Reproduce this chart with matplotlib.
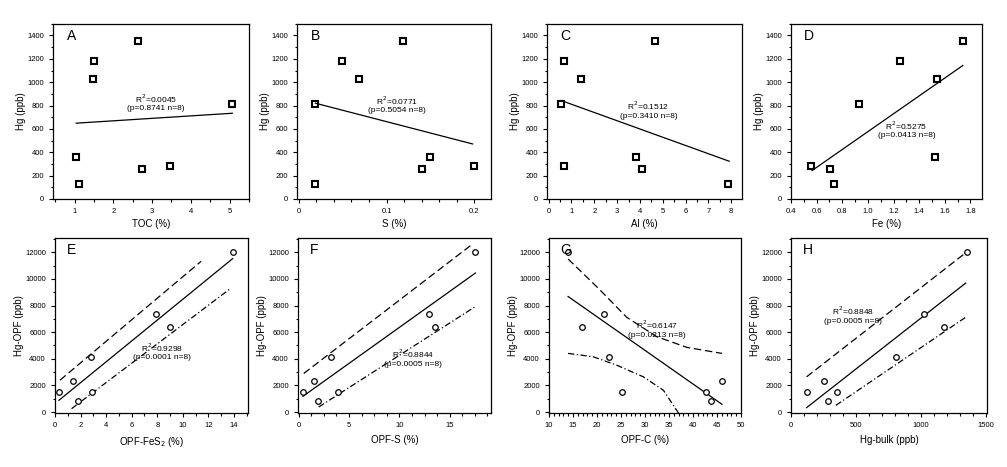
import matplotlib
matplotlib.use("Agg")
import matplotlib.pyplot as plt
from matplotlib.ticker import MultipleLocator

plt.rcParams['font.family'] = ['Liberation Sans', 'DejaVu Sans']

# Samples (same order in every panel)
hg_bulk = [1354, 1180, 1026, 809, 357, 283, 257, 126]    # Hg (ppb)
hg_opf = [12050, 6400, 7330, 4150, 1480, 850, 2320, 1530]  # Hg-OPF (ppb)

toc = [2.64, 1.49, 1.48, 5.07, 1.04, 3.45, 2.73, 1.11]
sulfur = [0.119, 0.049, 0.069, 0.019, 0.150, 0.200, 0.140, 0.019]
al = [4.66, 0.66, 1.42, 0.55, 3.84, 0.66, 4.07, 7.88]
fe = [1.74, 1.252, 1.535, 0.927, 1.525, 0.556, 0.701, 0.738]
opf_fes2 = [13.9, 9.01, 7.92, 2.78, 2.91, 1.82, 1.38, 0.31]
opf_s = [17.55, 13.58, 12.98, 3.25, 3.87, 1.92, 1.49, 0.43]
opf_c = [13.97, 16.90, 21.43, 22.54, 25.12, 43.80, 46.03, 42.68]

# regression lines (end points)
fit_a = ([1.04, 5.07], [649, 734])
fit_b = ([0.019, 0.198], [820, 471])
fit_c = ([0.55, 7.91], [843, 323])
fit_d = ([0.564, 1.74], [243, 1143])
fit_e = ([0.31, 13.9], [880, 11525])
fit_f = ([0.43, 17.55], [1182, 10440])
fit_g = ([13.97, 46.03], [8679, 579])
fit_h = ([120, 1346], [327, 9686])

# 95% bands
up_e = ([0.39, 11.43], [2390, 11320])
lo_e = ([1.30, 13.77], [252, 9308])
up_f = ([0.5, 17.2], [2893, 12579])
lo_f = ([1.99, 17.45], [377, 7874])
up_g = ([13.97, 20.59, 26.17, 32.44, 38.71, 46.03], [11497, 9182, 7119, 5660, 4855, 4403])
lo_g = ([13.97, 19.20, 24.08, 29.65, 33.83, 36.97], [4403, 4151, 3522, 2642, 1635, -75])
up_h = ([120, 1338], [2642, 11899])
lo_h = ([346, 1346], [503, 7119])

stats = {
    'A': "R$^2$=0.0045\n(p=0.8741 n=8)",
    'B': "R$^2$=0.0771\n(p=0.5054 n=8)",
    'C': "R$^2$=0.1512\n(p=0.3410 n=8)",
    'D': "R$^2$=0.5275\n(p=0.0413 n=8)",
    'E': "R$^2$=0.9298\n(p=0.0001 n=8)",
    'F': "R$^2$=0.8844\n(p=0.0005 n=8)",
    'G': "R$^2$=0.6147\n(p=0.0213 n=8)",
    'H': "R$^2$=0.8848\n(p=0.0005 n=8)",
}

fig = plt.figure(figsize=(10.07, 4.67), dpi=100)

top_pos = [[0.0526, 0.574, 0.1946, 0.375], [0.2949, 0.574, 0.1927, 0.375],
           [0.5432, 0.574, 0.1936, 0.375], [0.7855, 0.574, 0.1897, 0.375]]
bot_pos = [[0.0546, 0.1156, 0.1917, 0.375], [0.2959, 0.1156, 0.1917, 0.375],
           [0.5452, 0.1156, 0.1907, 0.375], [0.7855, 0.1156, 0.1946, 0.375]]

top = [
    ('A', toc, fit_a, 'TOC (%)', (0.44, 5.5), 1, 0.5, (3.1, 827), None),
    ('B', sulfur, fit_b, 'S (%)', (-0.002, 0.219), 0.1, 0.02, (0.112, 812), ['0', '0.1', '0.2']),
    ('C', al, fit_c, 'Al (%)', (-0.07, 8.47), 1, 0.5, (4.38, 765), None),
    ('D', fe, fit_d, 'Fe (%)', (0.4, 1.89), 0.2, 0.1, (1.30, 597), None),
]
bottom = [
    ('E', opf_fes2, fit_e, up_e, lo_e, 'OPF-FeS$_2$ (%)', (0, 15.1), 2, 1, (8.36, 4550)),
    ('F', opf_s, fit_f, up_f, lo_f, 'OPF-S (%)', (-0.07, 19.1), 5, 1.25, (11.36, 4090)),
    ('G', opf_c, fit_g, up_g, lo_g, 'OPF-C (%)', (10, 50), 5, 1, (32.44, 6240)),
    ('H', hg_bulk, fit_h, up_h, lo_h, 'Hg-bulk (ppb)', (0, 1510), 500, 100, (479, 7300)),
]


def style(ax, xlim, major, minor):
    ax.set_xlim(*xlim)
    ax.xaxis.set_major_locator(MultipleLocator(major))
    ax.xaxis.set_minor_locator(MultipleLocator(minor))
    ax.tick_params(which='both', direction='out', top=False, right=False,
                   labelsize=5.5, width=0.8)
    ax.tick_params(which='major', length=3)
    ax.tick_params(which='minor', length=1.8)
    for s in ax.spines.values():
        s.set_linewidth(0.9)


for pos, (tag, xs, fit, xlabel, xlim, major, minor, tpos, xticklabels) in zip(top_pos, top):
    ax = fig.add_axes(pos)
    ax.plot(xs, hg_bulk, 's', ms=4.8, mfc='white', mec='black', mew=1.5, ls='none')
    ax.plot(fit[0], fit[1], color='black', lw=0.9)
    style(ax, xlim, major, minor)
    ax.set_ylim(0, 1500)
    ax.yaxis.set_major_locator(MultipleLocator(200))
    ax.yaxis.set_minor_locator(MultipleLocator(100))
    if xticklabels:
        ax.set_xticks([0, 0.1, 0.2])
        ax.set_xticklabels(xticklabels)
    ax.set_xlabel(xlabel, fontsize=7, labelpad=3)
    ax.set_ylabel('Hg (ppb)', fontsize=7, labelpad=1)
    ax.text(tpos[0], tpos[1], stats[tag], fontsize=6, ha='center', va='center', linespacing=1.1)
    ax.text(0.07, 0.93, tag, transform=ax.transAxes, fontsize=10, ha='left', va='center')

for pos, (tag, xs, fit, up, lo, xlabel, xlim, major, minor, tpos) in zip(bot_pos, bottom):
    ax = fig.add_axes(pos)
    ax.plot(xs, hg_opf, 'o', ms=4, mfc='white', mec='black', mew=0.9, ls='none', zorder=3)
    ax.plot(fit[0], fit[1], color='black', lw=0.9)
    ax.plot(up[0], up[1], color='black', lw=0.9, ls=(0, (6, 3)))
    ax.plot(lo[0], lo[1], color='black', lw=0.9, ls=(0, (5, 2, 1, 2)))
    style(ax, xlim, major, minor)
    ax.set_ylim(-75, 13080)
    ax.yaxis.set_major_locator(MultipleLocator(2000))
    ax.yaxis.set_minor_locator(MultipleLocator(1000))
    ax.set_xlabel(xlabel, fontsize=7, labelpad=4)
    ax.set_ylabel('Hg-OPF (ppb)', fontsize=7, labelpad=1)
    ax.text(tpos[0], tpos[1], stats[tag], fontsize=6, ha='center', va='center', linespacing=1.1)
    ax.text(0.06, 0.93, tag, transform=ax.transAxes, fontsize=10, ha='left', va='center')

fig.savefig('out.png', dpi=100)
